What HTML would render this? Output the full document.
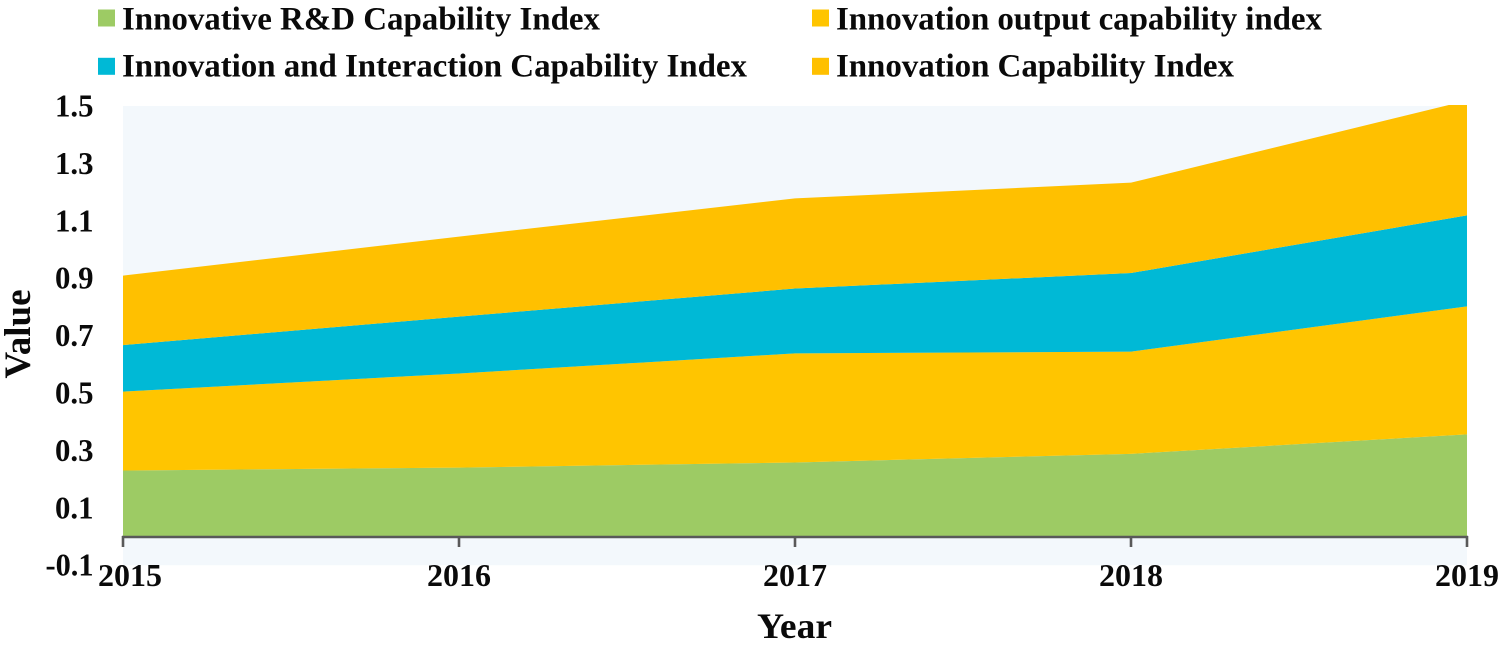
<!DOCTYPE html>
<html>
<head>
<meta charset="utf-8">
<style>
html,body{margin:0;padding:0;background:#fff;width:1498px;height:649px;overflow:hidden}
svg{display:block}
text{font-family:"Liberation Serif",serif;font-weight:bold;fill:#0a0a0a}
</style>
</head>
<body>
<svg id="chart" width="1498" height="649" viewBox="0 0 1498 649" xmlns="http://www.w3.org/2000/svg"></svg>
<script>
const years = ["2015", "2016", "2017", "2018", "2019"];
const rdCapability = [0.230, 0.240, 0.258, 0.288, 0.356];
const outputCapability = [0.275, 0.328, 0.380, 0.356, 0.446];
const interactionCapability = [0.162, 0.198, 0.226, 0.274, 0.317];
const innovationCapability = [0.242, 0.279, 0.314, 0.315, 0.400];
const yTickLabels = ["-0.1", "0.1", "0.3", "0.5", "0.7", "0.9", "1.1", "1.3", "1.5"];

const NS = "http://www.w3.org/2000/svg";
const svg = document.getElementById("chart");
const plotLeft = 123, plotRight = 1467, plotTop = 106, plotBottom = 565.2;
const yMin = -0.1, yMax = 1.5;
const xScale = i => plotLeft + (plotRight - plotLeft) * i / (years.length - 1);
const yScale = v => plotBottom - (v - yMin) / (yMax - yMin) * (plotBottom - plotTop);

function make(tag, attrs, parent) {
  const el = document.createElementNS(NS, tag);
  for (const k in attrs) el.setAttribute(k, attrs[k]);
  (parent || svg).appendChild(el);
  return el;
}

const plotBg = make("rect", {x: plotLeft, y: plotTop, width: plotRight - plotLeft, height: plotBottom - plotTop, fill: "#f3f8fc"});



const defs = make("defs", {});
const clip = make("clipPath", {id: "plot-clip"}, defs);
make("rect", {x: plotLeft, y: plotTop - 1, width: plotRight - plotLeft, height: plotBottom - plotTop + 1}, clip);

let baseline = years.map(() => 0);
function drawArea(values, color, name) {
  const top = values.map((v, i) => baseline[i] + v);
  let pts = top.map((v, i) => xScale(i).toFixed(2) + "," + yScale(v).toFixed(2));
  for (let i = years.length - 1; i >= 0; i--) {
    pts.push(xScale(i).toFixed(2) + "," + yScale(baseline[i]).toFixed(2));
  }
  const poly = make("polygon", {points: pts.join(" "), fill: color, "clip-path": "url(#plot-clip)"});
  
  
  baseline = top;
}
drawArea(rdCapability, "#9dcb64", "area-rd-capability");
drawArea(outputCapability, "#ffc500", "area-output-capability");
drawArea(interactionCapability, "#00b9d6", "area-interaction-capability");
drawArea(innovationCapability, "#ffc000", "area-innovation-capability");

const axisY = yScale(0) + 0.5;
const axisLine = make("line", {x1: plotLeft - 1, x2: plotRight + 1, y1: axisY, y2: axisY, stroke: "#595959", "stroke-width": 2.6});



years.forEach((yr, i) => {
  const tick = make("line", {x1: xScale(i), x2: xScale(i), y1: axisY - 1, y2: axisY + 10, stroke: "#595959", "stroke-width": 2.6});
  
  
  const label = make("text", {x: xScale(i) + (i === 0 ? 7 : 0), y: 586, "font-size": 32, "text-anchor": "middle"});
  label.textContent = yr;
  
  
});

yTickLabels.forEach(t => {
  const label = make("text", {x: 93.5, y: yScale(parseFloat(t)) + 10.5, "font-size": 32, "text-anchor": "end", textLength: t.length === 4 ? 48 : 38.5, lengthAdjust: "spacingAndGlyphs"});
  label.textContent = t;
  
  
});

const yTitle = make("text", {x: 0, y: 0, "font-size": 37, "text-anchor": "middle", transform: "translate(30,334) rotate(-90)"});
yTitle.textContent = "Value";



const xTitle = make("text", {x: 794.5, y: 638, "font-size": 36, "text-anchor": "middle", textLength: 75, lengthAdjust: "spacingAndGlyphs"});
xTitle.textContent = "Year";



const legendNames = ["Innovative R&D Capability Index", "Innovation output capability index", "Innovation and Interaction Capability Index", "Innovation Capability Index"];
const legendColors = ["#9dcb64", "#ffc500", "#00b9d6", "#ffc000"];
const legendWidths = [478, 486, 625, 398];
legendNames.forEach((n, i) => {
  const col = i % 2, row = Math.floor(i / 2);
  const g = make("g", {});
  
  
  const sw = make("rect", {x: col ? 812 : 98, y: 9.5 + row * 48.3, width: 17, height: 17, fill: legendColors[i]}, g);
  
  
  const t = make("text", {x: col ? 836 : 122, y: 29.5 + row * 47, "font-size": 33, textLength: legendWidths[i], lengthAdjust: "spacing"}, g);
  t.textContent = n;
  
  
});
</script>
</body>
</html>
